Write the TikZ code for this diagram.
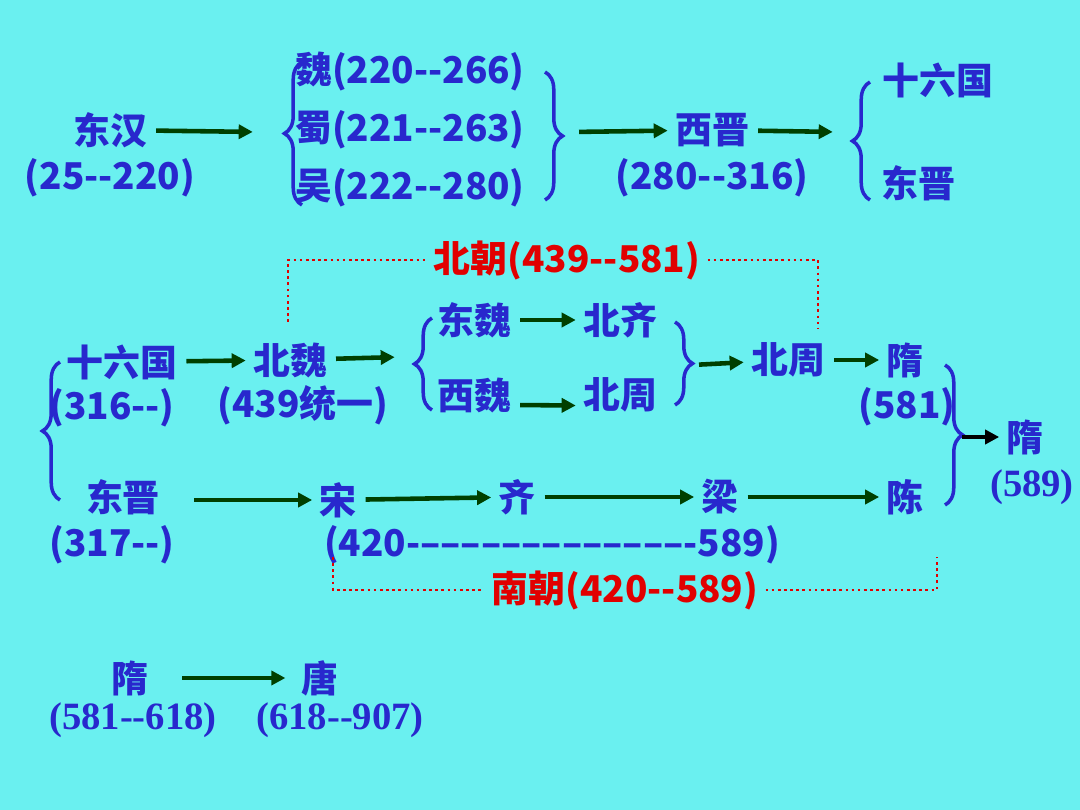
\documentclass[tikz,border=0pt]{standalone}
\usepackage{fontspec}
\setmainfont{Noto Sans CJK SC}
\newfontfamily\romfont{Liberation Serif}
\usetikzlibrary{decorations.pathreplacing,arrows.meta}
\definecolor{bgcyan}{RGB}{106,240,240}
\definecolor{txtblue}{RGB}{40,40,205}
\definecolor{arrgreen}{RGB}{0,64,0}
\definecolor{redtxt}{RGB}{225,0,0}
\def\dd{-{}-}
\tikzset{
  lbl/.style={text=txtblue,font=\fontsize{21}{24}\selectfont\bfseries,inner sep=1pt},
  rlbl/.style={lbl,font=\fontsize{22}{24}\selectfont\romfont\bfseries},
  redlbl/.style={lbl,text=redtxt,fill=bgcyan,inner sep=4pt},
  arr/.style={draw=arrgreen,line width=2.6pt,-{Triangle[length=8pt,width=8pt]},shorten <=4pt,shorten >=3pt},
  brc/.style={draw=txtblue,line width=2pt,decorate,decoration={brace,amplitude=10pt}},
  dotbox/.style={draw=redtxt,line width=1.5pt,dotted}
}
\begin{document}
\begin{tikzpicture}[x=0.02cm,y=-0.02cm]
    \fill[bgcyan] (0,0) rectangle (1080,810);

    % Top row
    \node[lbl] (donghan) at (110,130) {东汉};
    \node[lbl] (donghanY) at (110,178) {(25\dd220)};
    \node[lbl] (wei) at (410,72) {魏(220\dd266)};
    \node[lbl] (shu) at (410,130) {蜀(221\dd263)};
    \node[lbl] (wu) at (410,188) {吴(222\dd280)};
    \node[lbl] (xijin) at (712,130) {西晋};
    \node[lbl] (xijinY) at (712,178) {(280\dd316)};
    \node[lbl] (sljg) at (938,80) {十六国};
    \node[lbl] (djin) at (918,183) {东晋};
    \coordinate (bL) at (258,132);
    \coordinate (bR) at (572,132);
    \coordinate (bR2) at (838,132);
    \draw[arr] (donghan) -- (bL);
    \draw[brc] (302,205) -- (302,62);
    \draw[brc] (545,72) -- (545,200);
    \draw[arr] (bR) -- (xijin);
    \draw[arr] (xijin) -- (bR2);
    \draw[brc] (870,200) -- (870,82);

    % North
    \node[redlbl] (beichao) at (567,260) {北朝(439\dd581)};
    \draw[dotbox] (288,322) |- (beichao.west);
    \draw[dotbox] (beichao.east) -| (818,328);
    \node[lbl] (sl) at (122,362) {十六国};
    \node[lbl] (slY) at (112,408) {(316\dd)};
    \node[lbl] (beiwei) at (290,360) {北魏};
    \node[lbl] (beiweiY) at (303,405) {(439统一)};
    \node[lbl] (dongwei) at (474,320) {东魏};
    \node[lbl] (beiqi) at (620,320) {北齐};
    \node[lbl] (xiwei) at (474,395) {西魏};
    \node[lbl] (beizhouA) at (620,395) {北周};
    \node[lbl] (beizhou) at (788,360) {北周};
    \node[lbl] (sui) at (905,360) {隋};
    \node[lbl] (suiY) at (907,407) {(581)};
    \draw[arr] (sl) -- (beiwei);
    \coordinate (nL) at (400,357);
    \coordinate (nR) at (692,365);
    \draw[arr] (beiwei) -- (nL);
    \draw[brc] (432,410) -- (432,318);
    \draw[arr] (dongwei.east) -- (beiqi.west);
    \draw[arr] (xiwei.east) ++(0,10) -- ([yshift=-6pt]beizhouA.west);
    \draw[brc] (675,322) -- (675,405);
    \draw[arr] (nR) -- (beizhou);
    \draw[arr] (beizhou) -- (sui);

    % Big brace
    \draw[brc] (60,500) -- (60,362);

    % South
    \node[lbl] (dongjin) at (123,497) {东晋};
    \node[lbl] (dongjinY) at (112,545) {(317\dd)};
    \node[lbl] (song) at (338,500) {宋};
    \node[lbl] (qi) at (517,497) {齐};
    \node[lbl] (liang) at (720,497) {梁};
    \node[lbl] (chen) at (905,497) {陈};
    \node[lbl] (nanY) at (552,545) {(420\dd\dd\dd\dd\dd\dd\dd\dd\dd\dd\dd\dd\dd\dd589)};
    \draw[arr] (dongjin.east) ++(25,3) -- ([yshift=0pt]song.west);
    \draw[arr] (song) -- (qi);
    \draw[arr] (qi) -- (liang);
    \draw[arr] (liang) -- (chen);
    \node[redlbl] (nanchao) at (625,590) {南朝(420\dd589)};
    \draw[dotbox] (333,557) |- (nanchao.west);
    \draw[dotbox] (nanchao.east) -| (937,557);

    % Unification
    \draw[brc] (945,365) -- (945,505);
    \coordinate (uL) at (962,437);
    \node[lbl] (suiU) at (1025,437) {隋};
    \node[rlbl] (suiUY) at (1032,487) {(589)};
    \draw[arr,draw=black,shorten <=0pt] (uL) -- (suiU);

    % Bottom
    \node[lbl] (suiB) at (130,678) {隋};
    \node[lbl] (tang) at (320,678) {唐};
    \node[rlbl] (suiBY) at (133,720) {(581\dd618)};
    \node[rlbl] (tangY) at (340,720) {(618\dd907)};
    \draw[arr,shorten <=18pt,shorten >=8pt] (suiB) -- (tang);
\end{tikzpicture}
\end{document}
